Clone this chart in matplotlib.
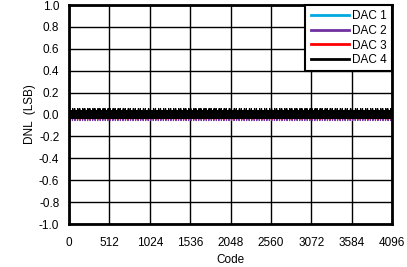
import numpy as np
import matplotlib.pyplot as plt

plt.rcParams['font.family'] = ['Liberation Sans', 'DejaVu Sans']

CODE_STEP = 4
DAC1 = [0.03, -0.03, 0.02, -0.03, 0.03, -0.02, 0.03, -0.03,
        0.02, -0.03, 0.03, -0.02, 0.03, -0.03, 0.02, -0.03]
DAC2 = [0.03, -0.03, 0.03, -0.055, 0.03, -0.03, 0.02, -0.03,
        0.03, -0.03, 0.03, -0.055, 0.02, -0.03, 0.03, -0.03]
DAC3 = [0.03, -0.03, 0.03, -0.03, 0.02, -0.04, 0.03, -0.03,
        0.03, -0.03, 0.02, -0.03, 0.03, -0.04, 0.03, -0.03]
DAC4 = [0.035, -0.035, 0.055, -0.035, 0.035, -0.035, 0.035, -0.035,
        0.035, -0.035, 0.035, -0.035, 0.055, -0.035, 0.035, -0.035]

labels = ['DAC 1', 'DAC 2', 'DAC 3', 'DAC 4']
colors = ['#00a9e0', '#7030a0', '#ff0000', '#000000']

xticks = [0, 512, 1024, 1536, 2048, 2560, 3072, 3584, 4096]
yticks = [-1.0, -0.8, -0.6, -0.4, -0.2, 0.0, 0.2, 0.4, 0.6, 0.8, 1.0]

codes = np.arange(0, 4096, CODE_STEP)

fig = plt.figure(figsize=(4.07, 2.67), dpi=100)
ax = fig.add_axes([0.1695, 0.161, 0.794, 0.82])

for seg, lab, col in zip([DAC1, DAC2, DAC3, DAC4], labels, colors):
    dnl = np.resize(seg, len(codes))
    ax.plot(codes, dnl, color=col, lw=0.9, label=lab)

ax.set_xlim(0, 4096)
ax.set_ylim(-1.0, 1.0)
ax.set_xticks(xticks)
ax.set_yticks(yticks)
ax.set_yticklabels(['%.1f' % v for v in yticks])
ax.tick_params(axis='x', length=0, labelsize=8.5, pad=9)
ax.tick_params(axis='y', length=0, labelsize=8.5, pad=7)
ax.grid(True, color='black', lw=1)
for s in ax.spines.values():
    s.set_linewidth(2)

ax.set_xlabel('Code', fontsize=8.5, labelpad=4)
ax.set_ylabel('DNL  (LSB)', fontsize=8.5, labelpad=2)

leg = ax.legend(loc='upper right', fontsize=8.5, fancybox=False, framealpha=1,
                edgecolor='black', borderaxespad=0, handlelength=3.2,
                handletextpad=0.3, labelspacing=0.22, borderpad=0.45)
leg.get_frame().set_linewidth(1.5)
for line in leg.get_lines():
    line.set_linewidth(2)

fig.savefig('out.png', dpi=100)
